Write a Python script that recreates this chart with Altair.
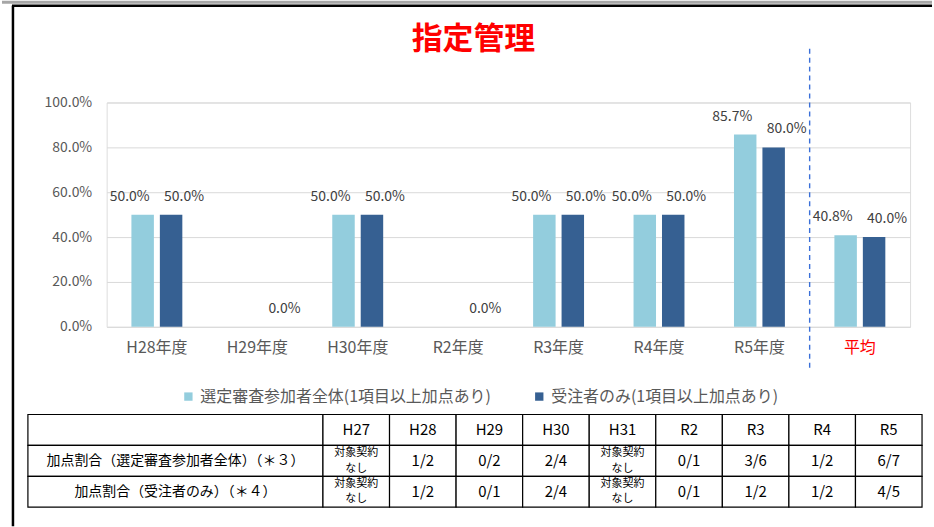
import altair as alt
import pandas as pd

# ---------------- data ----------------
title_text = "指定管理"
categories = ["H28年度", "H29年度", "H30年度", "R2年度", "R3年度", "R4年度", "R5年度", "平均"]
series_names = ["選定審査参加者全体(1項目以上加点あり)", "受注者のみ(1項目以上加点あり)"]
all_participants = [0.50, 0.0, 0.50, 0.0, 0.50, 0.50, 0.857, 0.408]
winners_only = [0.50, 0.0, 0.50, 0.0, 0.50, 0.50, 0.80, 0.40]
y_ticks = [0.0, 0.2, 0.4, 0.6, 0.8, 1.0]

table_rows = ["header", "r1", "r2"]
table_years = ["H27", "H28", "H29", "H30", "H31", "R2", "R3", "R4", "R5"]
row_labels = ["", "加点割合（選定審査参加者全体）（＊３）", "加点割合（受注者のみ）（＊４）"]
row_all = ["対象契約\nなし", "1/2", "0/2", "2/4", "対象契約\nなし", "0/1", "3/6", "1/2", "6/7"]
row_winners = ["対象契約\nなし", "1/2", "0/1", "2/4", "対象契約\nなし", "0/1", "1/2", "1/2", "4/5"]

# ---------------- style ----------------
FONT = "Noto Sans CJK JP"
LIGHT = "#93CDDD"
DARK = "#366092"
W, H = 806, 225

bars_df = pd.DataFrame(
    [{"cat": c, "series": series_names[0], "value": v} for c, v in zip(categories, all_participants)]
    + [{"cat": c, "series": series_names[1], "value": v} for c, v in zip(categories, winners_only)]
)

x_enc = alt.X(
    "cat:N", sort=categories,
    scale=alt.Scale(paddingInner=0, paddingOuter=0),
    axis=alt.Axis(title=None, labelAngle=0, ticks=False, tickSize=0, domain=False,
                  labelFont=FONT, labelFontSize=16, labelPadding=13,
                  labelColor=alt.ExprRef("datum.value === '平均' ? '#FF0000' : '#595959'")),
)
xoff_enc = alt.XOffset("series:N", sort=series_names,
                       scale=alt.Scale(paddingInner=0.21, paddingOuter=0.87))
y_enc = alt.Y(
    "value:Q", scale=alt.Scale(domain=[0, 1]),
    axis=alt.Axis(title=None, format=".1%", values=y_ticks, domain=False, ticks=False, tickSize=0,
                  gridColor="#D9D9D9", labelFont=FONT, labelFontSize=14, labelColor="#595959",
                  labelPadding=15),
)
color_enc = alt.Color(
    "series:N", sort=series_names,
    scale=alt.Scale(domain=series_names, range=[LIGHT, DARK]),
    legend=alt.Legend(title=None, orient="none", direction="horizontal", legendX=74, legendY=287,
                      symbolType="square", symbolSize=70, symbolStrokeWidth=0, labelOffset=4,
                      labelFont=FONT, labelFontSize=16, labelColor="#595959", columnPadding=40,
                      labelLimit=500, padding=0),
)

base = alt.Chart(bars_df)
bars = base.mark_bar().encode(x=x_enc, xOffset=xoff_enc, y=y_enc, color=color_enc)

lbl_light = base.transform_filter(
    alt.FieldOneOfPredicate(field="series", oneOf=[series_names[0]])
).transform_filter("datum.value > 0").mark_text(
    font=FONT, fontSize=14, color="#404040", baseline="middle", dy=-18, dx=-13
).encode(x=alt.X("cat:N", sort=categories), xOffset=alt.XOffset("series:N", sort=series_names),
         y="value:Q", text=alt.Text("value:Q", format=".1%"))

lbl_dark = base.transform_filter(
    alt.FieldOneOfPredicate(field="series", oneOf=[series_names[1]])
).mark_text(
    font=FONT, fontSize=14, color="#404040", baseline="middle", dy=-18, dx=13
).encode(x=alt.X("cat:N", sort=categories), xOffset=alt.XOffset("series:N", sort=series_names),
         y="value:Q", text=alt.Text("value:Q", format=".1%"))

sep = alt.Chart(pd.DataFrame({"k": [0]})).mark_rule(
    color="#3A6FD8", strokeDash=[5, 4], strokeWidth=1.4
).encode(x=alt.XDatum(categories[-1], type="nominal", bandPosition=0),
         y=alt.value(-54), y2=alt.value(266))

bar_group = alt.layer(bars, lbl_light, lbl_dark, sep)

# ---------------- table ----------------
ROW_RANGE = [313, 406]
label_df = pd.DataFrame({"row": table_rows, "col": ["label"] * 3, "text": row_labels})
lab_x = alt.X("col:N", scale=alt.Scale(range=[-79, 217], paddingInner=0, paddingOuter=0), axis=None)
row_y = alt.Y("row:N", sort=table_rows,
              scale=alt.Scale(range=ROW_RANGE, paddingInner=0, paddingOuter=0), axis=None)
lab_base = alt.Chart(label_df)
lab_rect = lab_base.mark_rect(fill="white", stroke="black", strokeWidth=1.2).encode(x=lab_x, y=row_y)
lab_text = lab_base.mark_text(font=FONT, fontSize=14, color="black").encode(x=lab_x, y=row_y, text="text:N")
label_group = alt.layer(lab_rect, lab_text)

cells = []
for yr in table_years:
    cells.append({"row": "header", "year": yr, "text": yr})
for yr, t in zip(table_years, row_all):
    cells.append({"row": "r1", "year": yr, "text": t})
for yr, t in zip(table_years, row_winners):
    cells.append({"row": "r2", "year": yr, "text": t})
cells_df = pd.DataFrame(cells)
yr_x = alt.X("year:N", sort=table_years,
             scale=alt.Scale(range=[217, 818], paddingInner=0, paddingOuter=0), axis=None)
yr_base = alt.Chart(cells_df)
yr_rect = yr_base.mark_rect(fill="white", stroke="black", strokeWidth=1.2).encode(x=yr_x, y=row_y)
yr_text_single = yr_base.transform_filter("indexof(datum.text, '\\n') < 0").mark_text(
    font=FONT, fontSize=15, color="black", baseline="middle"
).encode(x=yr_x, y=row_y, text="text:N")
yr_text_multi = yr_base.transform_filter("indexof(datum.text, '\\n') >= 0").mark_text(
    font=FONT, fontSize=11, color="black", lineBreak="\n", lineHeight=15.5, baseline="middle", dy=-7.75
).encode(x=yr_x, y=row_y, text="text:N")
year_group = alt.layer(yr_rect, yr_text_single, yr_text_multi)

# ---------------- frame ----------------
frame_df = pd.DataFrame({"k": [0]})
frame_gray = alt.Chart(frame_df).mark_rule(color="#A6A6A6", strokeWidth=3).encode(
    x=alt.value(-105), x2=alt.value(828), y=alt.value(-100.5))
frame_top = alt.Chart(frame_df).mark_rule(color="black", strokeWidth=2.5).encode(
    x=alt.value(-95), x2=alt.value(828), y=alt.value(-97))
frame_left = alt.Chart(frame_df).mark_rule(color="black", strokeWidth=2.5).encode(
    x=alt.value(-94), y=alt.value(-97), y2=alt.value(425))
frame_group = alt.layer(frame_gray, frame_top, frame_left)

chart = alt.layer(bar_group, label_group, year_group, frame_group).resolve_scale(
    x="independent", y="independent"
).properties(
    width=W, height=H,
    title=alt.Title(title_text, font=FONT, fontSize=31, fontWeight="bold", color="#FF0000",
                    anchor="middle", dx=-35, offset=-70, baseline="middle"),
    padding={"left": 0, "top": 0, "right": 0, "bottom": 0},
).configure_view(stroke=None).configure(background="white")

chart.save("out.html", embed_options={"renderer": "svg", "actions": False})
